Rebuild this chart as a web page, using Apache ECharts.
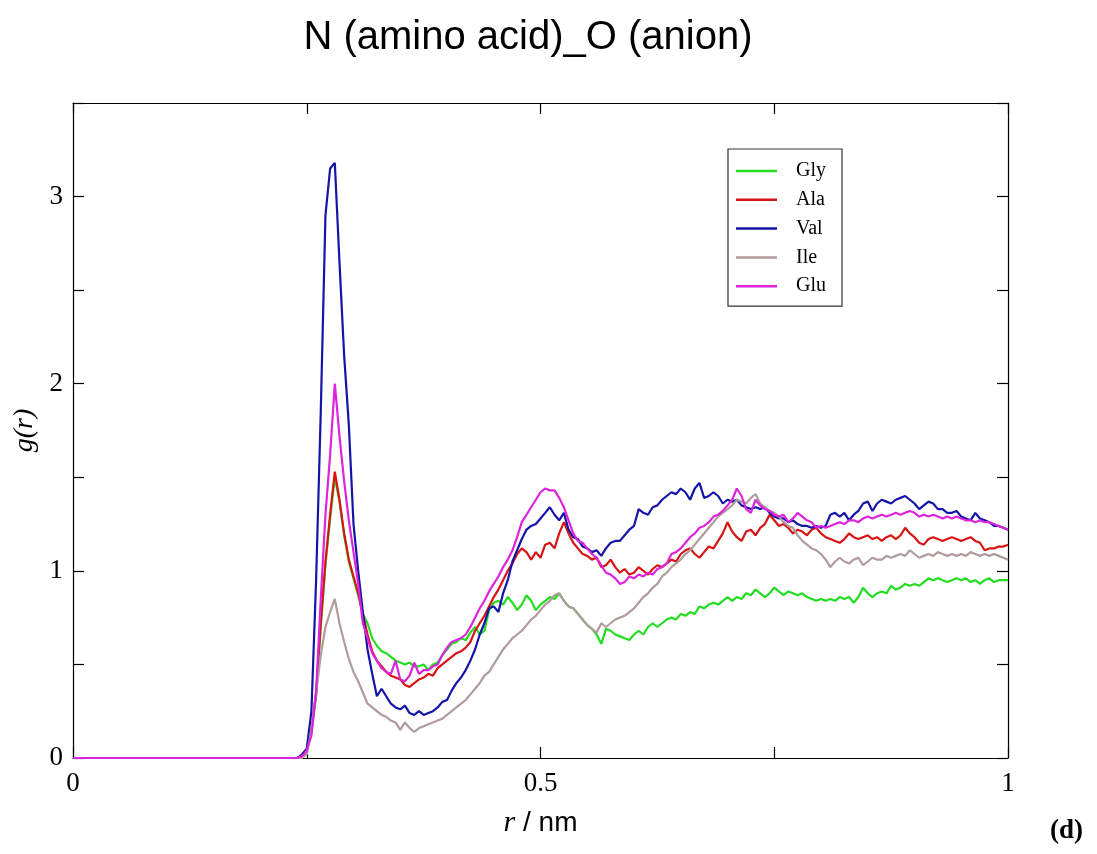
<!DOCTYPE html>
<html>
<head>
<meta charset="utf-8">
<script src="https://cdn.jsdelivr.net/npm/echarts@6/dist/echarts.min.js"></script>
<style>html,body{margin:0;padding:0;background:#fff;}#c{width:1097px;height:854px;}</style>
</head>
<body>
<div id="c"></div>
<script>
var titleText = 'N (amino acid)_O (anion)';
var seriesNames = ['Gly', 'Ala', 'Val', 'Ile', 'Glu'];
var xTickLabels = ['0', '0.5', '1'];
var yTickLabels = ['0', '1', '2', '3'];

var r = [0,
0.24,0.245,0.25,0.255,0.26,0.265,0.27,0.275,0.28,0.285,
0.29,0.295,0.30,0.305,0.31,0.315,0.32,0.325,0.33,0.335,
0.34,0.345,0.35,0.355,0.36,0.365,0.37,0.375,0.38,0.385,
0.39,0.395,0.40,0.405,0.41,0.415,0.42,0.425,0.43,0.435,
0.44,0.445,0.45,0.455,0.46,0.465,0.47,0.475,0.48,0.485,
0.49,0.495,0.50,0.505,0.51,0.515,0.52,0.525,0.53,0.535,
0.54,0.545,0.55,0.555,0.56,0.565,0.57,0.575,0.58,0.585,
0.59,0.595,0.60,0.605,0.61,0.615,0.62,0.625,0.63,0.635,
0.64,0.645,0.65,0.655,0.66,0.665,0.67,0.675,0.68,0.685,
0.69,0.695,0.70,0.705,0.71,0.715,0.72,0.725,0.73,0.735,
0.74,0.745,0.75,0.755,0.76,0.765,0.77,0.775,0.78,0.785,
0.79,0.795,0.80,0.805,0.81,0.815,0.82,0.825,0.83,0.835,
0.84,0.845,0.85,0.855,0.86,0.865,0.87,0.875,0.88,0.885,
0.89,0.895,0.90,0.905,0.91,0.915,0.92,0.925,0.93,0.935,
0.94,0.945,0.95,0.955,0.96,0.965,0.97,0.975,0.98,0.985,
0.99,0.995,1.0];

var gly = [0,
0, 0.01, 0.04, 0.14, 0.33, 0.70, 1.03, 1.28, 1.50, 1.37,
1.19, 1.05, 0.96, 0.87, 0.77, 0.72, 0.64, 0.60, 0.57, 0.56,
0.54, 0.52, 0.51, 0.50, 0.51, 0.49, 0.49, 0.50, 0.47, 0.50,
0.51, 0.55, 0.58, 0.61, 0.62, 0.64, 0.63, 0.67, 0.70, 0.66,
0.68, 0.79, 0.83, 0.84, 0.82, 0.86, 0.83, 0.79, 0.82, 0.87,
0.84, 0.79, 0.82, 0.84, 0.86, 0.85, 0.88, 0.84, 0.81, 0.80,
0.77, 0.74, 0.71, 0.69, 0.66, 0.61, 0.69, 0.68, 0.66, 0.65,
0.64, 0.63, 0.66, 0.68, 0.66, 0.70, 0.72, 0.70, 0.72, 0.74,
0.75, 0.74, 0.77, 0.76, 0.78, 0.77, 0.81, 0.80, 0.82, 0.83,
0.82, 0.84, 0.86, 0.84, 0.86, 0.85, 0.88, 0.87, 0.90, 0.88,
0.86, 0.88, 0.91, 0.89, 0.87, 0.89, 0.88, 0.87, 0.88, 0.86,
0.85, 0.84, 0.85, 0.84, 0.85, 0.84, 0.86, 0.85, 0.86, 0.83,
0.86, 0.91, 0.88, 0.86, 0.88, 0.89, 0.88, 0.92, 0.90, 0.91,
0.93, 0.92, 0.93, 0.92, 0.94, 0.96, 0.95, 0.96, 0.95, 0.94,
0.95, 0.96, 0.95, 0.96, 0.94, 0.95, 0.93, 0.95, 0.96, 0.94,
0.95, 0.95, 0.95];

var ala = [0,
0, 0.01, 0.04, 0.15, 0.35, 0.72, 1.05, 1.30, 1.53, 1.38,
1.20, 1.06, 0.97, 0.88, 0.77, 0.66, 0.57, 0.52, 0.49, 0.46,
0.44, 0.43, 0.42, 0.39, 0.38, 0.40, 0.42, 0.43, 0.45, 0.44,
0.48, 0.50, 0.52, 0.54, 0.56, 0.57, 0.59, 0.62, 0.68, 0.72,
0.76, 0.81, 0.86, 0.90, 0.95, 1.00, 1.04, 1.09, 1.12, 1.10,
1.06, 1.10, 1.07, 1.14, 1.15, 1.12, 1.20, 1.26, 1.20, 1.15,
1.12, 1.09, 1.08, 1.06, 1.07, 1.02, 1.03, 1.06, 1.02, 0.99,
1.01, 0.98, 0.99, 1.02, 1.00, 0.98, 1.01, 1.03, 1.02, 1.04,
1.06, 1.05, 1.09, 1.11, 1.12, 1.09, 1.07, 1.10, 1.13, 1.12,
1.16, 1.20, 1.26, 1.21, 1.18, 1.16, 1.21, 1.22, 1.19, 1.23,
1.25, 1.30, 1.27, 1.24, 1.25, 1.23, 1.20, 1.22, 1.21, 1.19,
1.22, 1.23, 1.20, 1.18, 1.17, 1.16, 1.15, 1.17, 1.20, 1.18,
1.17, 1.18, 1.19, 1.17, 1.18, 1.16, 1.18, 1.19, 1.17, 1.19,
1.23, 1.20, 1.18, 1.15, 1.14, 1.17, 1.18, 1.17, 1.16, 1.17,
1.18, 1.17, 1.16, 1.17, 1.18, 1.16, 1.15, 1.11, 1.12, 1.12,
1.13, 1.13, 1.14];

var val = [0,
0, 0.02, 0.05, 0.25, 0.95, 1.85, 2.90, 3.15, 3.18, 2.65,
2.15, 1.78, 1.25, 1.00, 0.78, 0.58, 0.45, 0.33, 0.37, 0.33,
0.29, 0.27, 0.26, 0.28, 0.24, 0.23, 0.25, 0.23, 0.24, 0.25,
0.27, 0.30, 0.31, 0.36, 0.40, 0.43, 0.47, 0.52, 0.58, 0.66,
0.72, 0.80, 0.81, 0.78, 0.88, 0.95, 1.05, 1.11, 1.17, 1.22,
1.24, 1.25, 1.28, 1.31, 1.34, 1.30, 1.27, 1.31, 1.22, 1.18,
1.17, 1.13, 1.12, 1.10, 1.11, 1.08, 1.12, 1.15, 1.16, 1.16,
1.19, 1.22, 1.24, 1.33, 1.31, 1.30, 1.34, 1.35, 1.38, 1.40,
1.42, 1.41, 1.44, 1.42, 1.38, 1.44, 1.47, 1.39, 1.40, 1.42,
1.40, 1.36, 1.38, 1.37, 1.38, 1.35, 1.34, 1.33, 1.34, 1.33,
1.34, 1.31, 1.29, 1.28, 1.28, 1.26, 1.27, 1.25, 1.24, 1.24,
1.23, 1.24, 1.23, 1.24, 1.30, 1.31, 1.29, 1.31, 1.27, 1.30,
1.32, 1.36, 1.37, 1.32, 1.36, 1.38, 1.37, 1.36, 1.38, 1.39,
1.40, 1.38, 1.36, 1.33, 1.35, 1.37, 1.36, 1.33, 1.33, 1.31,
1.31, 1.32, 1.29, 1.28, 1.27, 1.31, 1.28, 1.27, 1.26, 1.24,
1.24, 1.23, 1.22];

var ile = [0,
0, 0, 0.02, 0.15, 0.35, 0.55, 0.70, 0.78, 0.85, 0.72,
0.62, 0.53, 0.46, 0.41, 0.35, 0.29, 0.27, 0.25, 0.23, 0.22,
0.20, 0.19, 0.15, 0.19, 0.16, 0.14, 0.16, 0.17, 0.18, 0.19,
0.20, 0.21, 0.23, 0.25, 0.27, 0.29, 0.31, 0.34, 0.37, 0.40,
0.44, 0.46, 0.50, 0.54, 0.58, 0.61, 0.64, 0.66, 0.68, 0.71,
0.74, 0.76, 0.79, 0.82, 0.84, 0.87, 0.88, 0.84, 0.81, 0.80,
0.77, 0.74, 0.71, 0.69, 0.67, 0.72, 0.70, 0.72, 0.74, 0.75,
0.76, 0.78, 0.80, 0.83, 0.86, 0.88, 0.91, 0.93, 0.97, 0.99,
1.02, 1.04, 1.06, 1.09, 1.11, 1.14, 1.17, 1.20, 1.23, 1.26,
1.29, 1.31, 1.33, 1.35, 1.38, 1.37, 1.36, 1.39, 1.41, 1.36,
1.34, 1.32, 1.31, 1.29, 1.26, 1.24, 1.23, 1.19, 1.16, 1.14,
1.12, 1.11, 1.09, 1.06, 1.02, 1.05, 1.07, 1.05, 1.04, 1.06,
1.07, 1.03, 1.05, 1.07, 1.06, 1.06, 1.08, 1.07, 1.08, 1.09,
1.08, 1.11, 1.09, 1.07, 1.08, 1.09, 1.08, 1.10, 1.09, 1.08,
1.09, 1.08, 1.09, 1.08, 1.10, 1.09, 1.08, 1.09, 1.08, 1.09,
1.08, 1.07, 1.06];

var glu = [0,
0, 0.01, 0.04, 0.12, 0.35, 0.85, 1.30, 1.62, 2.00, 1.72,
1.48, 1.27, 1.10, 0.93, 0.72, 0.64, 0.56, 0.52, 0.48, 0.46,
0.45, 0.52, 0.42, 0.41, 0.44, 0.51, 0.45, 0.47, 0.47, 0.49,
0.50, 0.55, 0.59, 0.62, 0.63, 0.64, 0.66, 0.70, 0.75, 0.80,
0.84, 0.89, 0.93, 0.97, 1.02, 1.06, 1.11, 1.18, 1.26, 1.30,
1.34, 1.38, 1.42, 1.44, 1.43, 1.43, 1.39, 1.34, 1.27, 1.20,
1.16, 1.15, 1.12, 1.09, 1.07, 1.03, 0.99, 0.98, 0.96, 0.93,
0.94, 0.97, 0.96, 0.98, 0.97, 0.99, 0.98, 1.01, 1.02, 1.04,
1.09, 1.10, 1.12, 1.15, 1.18, 1.20, 1.23, 1.24, 1.26, 1.29,
1.30, 1.32, 1.35, 1.38, 1.44, 1.40, 1.33, 1.31, 1.38, 1.35,
1.33, 1.32, 1.30, 1.29, 1.30, 1.26, 1.28, 1.31, 1.29, 1.27,
1.26, 1.23, 1.24, 1.23, 1.24, 1.25, 1.26, 1.25, 1.27, 1.27,
1.26, 1.28, 1.29, 1.28, 1.29, 1.30, 1.29, 1.30, 1.31, 1.30,
1.31, 1.32, 1.31, 1.29, 1.30, 1.29, 1.30, 1.29, 1.28, 1.29,
1.28, 1.29, 1.28, 1.27, 1.27, 1.26, 1.27, 1.26, 1.26, 1.25,
1.24, 1.23, 1.22];

var seriesValues = [gly, ala, val, ile, glu];
var colors = ['#22dd22', '#d81414', '#1414a8', '#b09c9c', '#dc24dc'];

var chart = echarts.init(document.getElementById('c'), null, {renderer: 'canvas'});
var serif = '"Liberation Serif", "Times New Roman", serif';
var sans = '"Liberation Sans", Arial, sans-serif';

function pair(vals) { return r.map(function (x, i) { return [x, vals[i]]; }); }

var axisLineStyle = {show: true, onZero: false, lineStyle: {color: '#000', width: 1.2}};
var tickStyle = {show: true, inside: true, length: 11, lineStyle: {color: '#000', width: 1.2}};

var option = {
  animation: false,
  backgroundColor: '#fff',
  title: {
    text: titleText,
    left: 523, top: 13, textAlign: 'center',
    textStyle: {fontFamily: sans, fontSize: 40, fontWeight: 'normal', color: '#000'}
  },
  legend: {
    data: seriesNames,
    orient: 'vertical',
    left: 728, top: 149,
    padding: [12, 16, 10, 8],
    itemGap: 8.8,
    itemWidth: 41, itemHeight: 2.5,
    icon: 'rect',
    borderColor: '#333', borderWidth: 1.2,
    textStyle: {fontFamily: serif, fontSize: 20, color: '#000', lineHeight: 20, height: 20, padding: [0, 0, 0, 14]}
  },
  grid: {left: 73, right: 89, top: 103, bottom: 96, containLabel: false},
  xAxis: [{
    type: 'value', min: 0, max: 1, interval: 0.25,
    axisLine: axisLineStyle, axisTick: tickStyle, splitLine: {show: false},
    axisLabel: {
      margin: 12, fontFamily: serif, fontSize: 27, color: '#000',
      formatter: function (v) { var i = [0, 0.5, 1].indexOf(+v.toFixed(2)); return i >= 0 ? xTickLabels[i] : ''; }
    },
    name: '{i|r}{n| / nm}', nameLocation: 'middle', nameGap: 50,
    nameTextStyle: {rich: {
      i: {fontFamily: serif, fontStyle: 'italic', fontSize: 30, color: '#000'},
      n: {fontFamily: sans, fontSize: 28, color: '#000'}
    }}
  }, {
    type: 'value', min: 0, max: 1, interval: 0.25, position: 'top',
    axisLine: axisLineStyle, axisTick: tickStyle, axisLabel: {show: false}, splitLine: {show: false}
  }],
  yAxis: [{
    type: 'value', min: 0, max: 3.5, interval: 0.5,
    axisLine: axisLineStyle, axisTick: tickStyle, splitLine: {show: false},
    axisLabel: {
      margin: 10, fontFamily: serif, fontSize: 27, color: '#000',
      formatter: function (v) { return (Math.abs(v - Math.round(v)) < 1e-6) ? yTickLabels[Math.round(v)] : ''; }
    },
    name: '{i|g(r)}', nameLocation: 'middle', nameGap: 29, nameRotate: 90,
    nameTextStyle: {rich: {i: {fontFamily: serif, fontStyle: 'italic', fontSize: 28, color: '#000'}}}
  }, {
    type: 'value', min: 0, max: 3.5, interval: 0.5, position: 'right',
    axisLine: axisLineStyle, axisTick: tickStyle, axisLabel: {show: false}, splitLine: {show: false}
  }],
  series: seriesNames.map(function (name, k) {
    return {
      name: name, type: 'line', data: pair(seriesValues[k]),
      xAxisIndex: 0, yAxisIndex: 0,
      symbol: 'none', showSymbol: false, smooth: false,
      color: colors[k],
      lineStyle: {color: colors[k], width: 2.2},
      z: 2 + k
    };
  }),
  graphic: [{
    type: 'text', left: 1050, top: 818,
    style: {text: '(d)', font: 'bold 27px ' + serif, fill: '#000'}
  }]
};
chart.setOption(option);
</script>
</body>
</html>
